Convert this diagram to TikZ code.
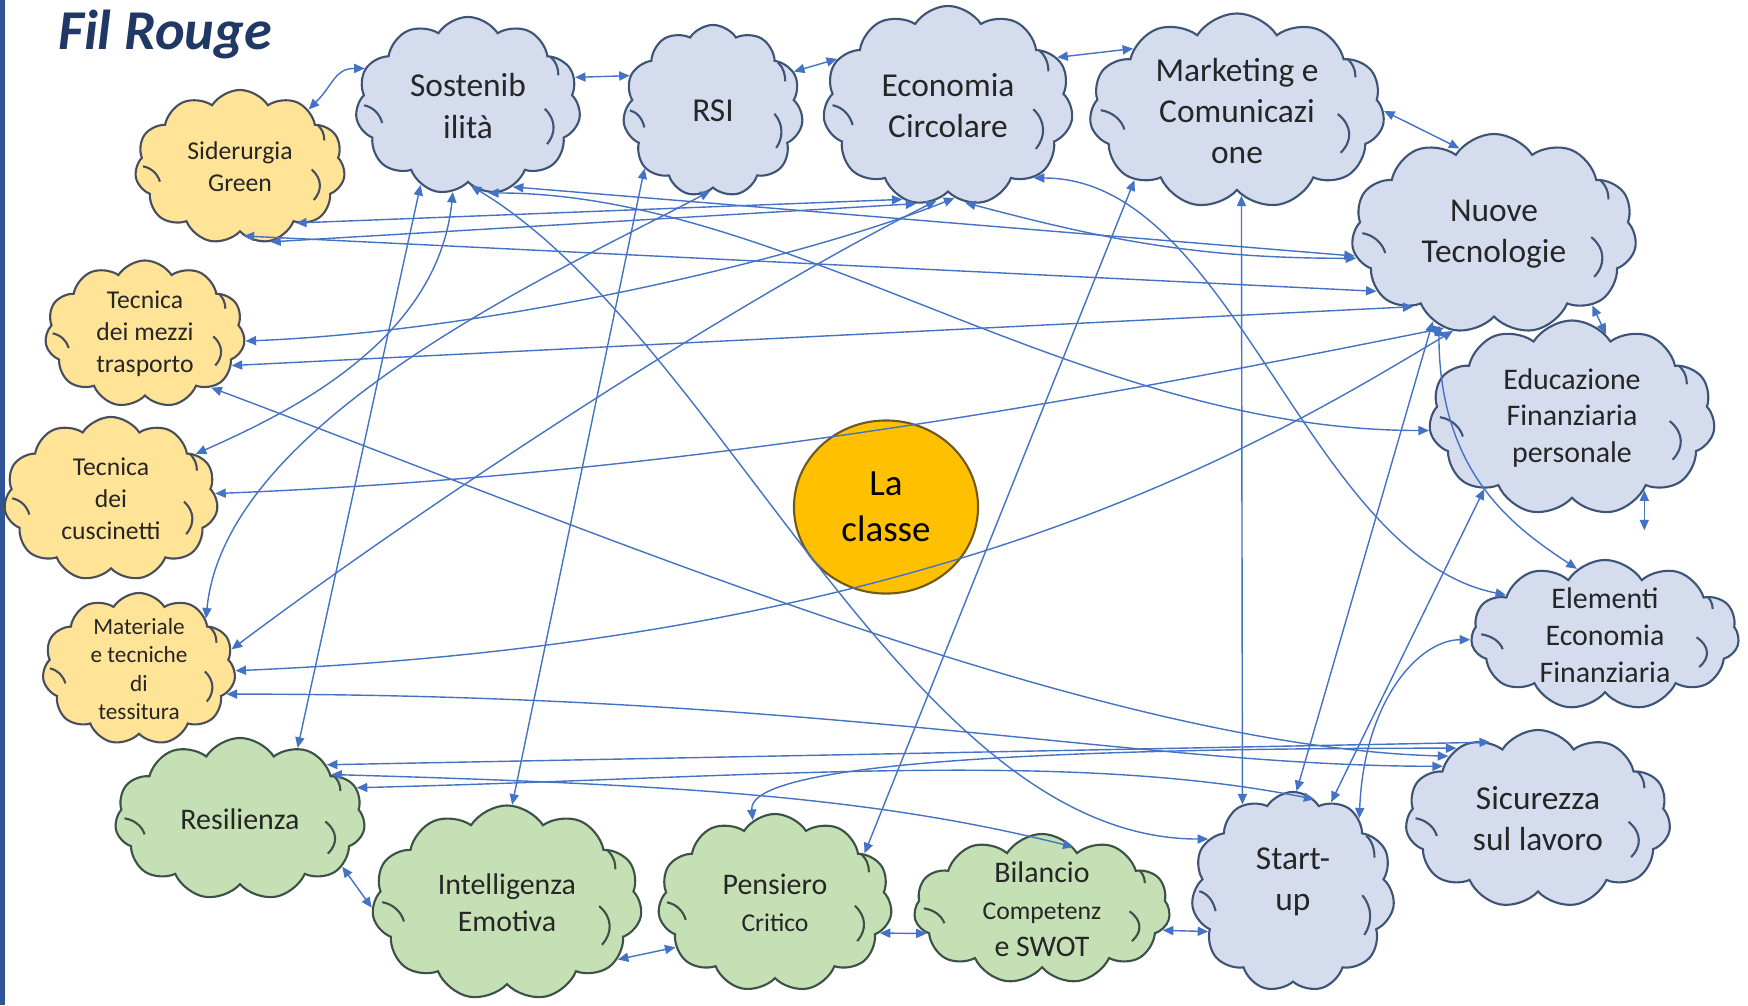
\documentclass[tikz,border=0pt]{standalone}
\usepackage{fontspec}
\setmainfont{Carlito}
\usetikzlibrary{shapes.symbols,shapes.geometric,arrows.meta,calc}
\definecolor{topicfill}{RGB}{212,220,238}
\definecolor{topicdraw}{RGB}{62,84,118}
\definecolor{techfill}{RGB}{255,227,150}
\definecolor{techdraw}{RGB}{72,78,92}
\definecolor{softfill}{RGB}{197,224,180}
\definecolor{softdraw}{RGB}{60,82,70}
\definecolor{classfill}{RGB}{255,192,0}
\definecolor{classdraw}{RGB}{110,90,30}
\definecolor{linkblue}{RGB}{68,114,196}
\definecolor{titleblue}{RGB}{31,56,100}
\definecolor{barblue}{RGB}{47,85,151}
\newcommand{\cloudbig}{\fontsize{9.5}{11.7}\selectfont}
\newcommand{\cloudmid}{\fontsize{8.5}{10.5}\selectfont}
\newcommand{\cloudsmall}{\fontsize{7.3}{9.1}\selectfont}
\newcommand{\cloudtiny}{\fontsize{6.6}{8}\selectfont}
% point inside the cloud box, u from left, v from top
\newcommand{\inbox}[2]{({\x1+#1*(\x2-\x1)},{\y1+#2*(\y2-\y1)})}
\tikzset{
    cloud text/.style = {
        align = center,
        text = black!85,
        inner sep = 0pt,
        },
    cloud marks/.style = {
        path picture = {
            \draw[#1, line width=0.6pt]
                let \p1 = (path picture bounding box.north west),
                    \p2 = (path picture bounding box.south east) in
                \inbox{0.04}{0.50} .. controls \inbox{0.08}{0.51} and \inbox{0.11}{0.55} .. \inbox{0.12}{0.60}
                \inbox{0.84}{0.52} .. controls \inbox{0.89}{0.58} and \inbox{0.89}{0.66} .. \inbox{0.85}{0.72}
                \inbox{0.86}{0.22} .. controls \inbox{0.89}{0.25} and \inbox{0.90}{0.29} .. \inbox{0.90}{0.33};
            },
        },
    base cloud/.style = {
        cloud,
        cloud puffs = 11,
        cloud puff arc = 115,
        cloud ignores aspect,
        draw,
        line width = 0.6pt,
        inner sep = 0pt,
        },
    topic cloud/.style = {
        base cloud,
        fill = topicfill,
        draw = topicdraw,
        cloud marks = topicdraw,
        },
    tech cloud/.style = {
        base cloud,
        fill = techfill,
        draw = techdraw,
        cloud marks = techdraw,
        },
    soft cloud/.style = {
        base cloud,
        fill = softfill,
        draw = softdraw,
        cloud marks = softdraw,
        },
    link/.style = {
        draw = linkblue,
        line width = 0.4pt,
        {Triangle[length=3pt,width=2.6pt]}-{Triangle[length=3pt,width=2.6pt]},
        },
}

\begin{document}
\begin{tikzpicture}[x=0.01cm, y=-0.01cm]
            \useasboundingbox (0,0) rectangle (1748,1005);
            \fill[barblue] (0,0) rectangle (5,1005);
            \node[font=\fontsize{16}{19}\selectfont\bfseries\itshape, text=titleblue, inner sep=0pt] (title) at (165,34) {Fil Rouge};

            % top row
            \node[topic cloud, minimum width=2.25cm, minimum height=1.78cm, label={[cloud text, font=\cloudbig]center:Sostenib\\ilità}] (sost) at (468,106) {};
            \node[topic cloud, minimum width=1.8cm, minimum height=1.72cm, label={[cloud text, font=\cloudbig]center:RSI}] (rsi) at (713,111) {};
            \node[topic cloud, minimum width=2.5cm, minimum height=2.0cm, label={[cloud text, font=\cloudbig]center:Economia\\Circolare}] (econ) at (948,106) {};
            \node[topic cloud, minimum width=2.95cm, minimum height=1.95cm, label={[cloud text, font=\cloudbig]center:Marketing e\\Comunicazi\\one}] (mark) at (1237,111) {};

            % right column
            \node[topic cloud, minimum width=2.85cm, minimum height=2.0cm, label={[cloud text, font=\cloudbig]center:Nuove\\Tecnologie}] (nuove) at (1494,234) {};
            \node[topic cloud, minimum width=2.86cm, minimum height=1.95cm, label={[cloud text, font=\cloudmid]center:Educazione\\Finanziaria\\personale}] (educ) at (1572,418) {};
            \node[topic cloud, minimum width=2.68cm, minimum height=1.5cm, label={[cloud text, font=\cloudmid]center:Elementi\\Economia\\Finanziaria}] (elem) at (1605,635) {};
            \node[topic cloud, minimum width=2.65cm, minimum height=1.78cm, label={[cloud text, font=\cloudbig]center:Sicurezza\\sul lavoro}] (sicur) at (1538,819) {};
            \node[topic cloud, minimum width=2.03cm, minimum height=2.0cm, label={[cloud text, font=\cloudbig, yshift=1mm]center:Start-\\up}] (start) at (1293,892) {};

            % bottom row
            \node[soft cloud, minimum width=2.56cm, minimum height=1.5cm, label={[cloud text, font=\cloudmid]center:Bilancio\\{\cloudsmall Competenz}\\e SWOT}] (bilan) at (1042,909) {};
            \node[soft cloud, minimum width=2.34cm, minimum height=1.78cm, label={[cloud text, font=\cloudmid]center:Pensiero\\{\cloudsmall Critico}}] (pens) at (775,903) {};
            \node[soft cloud, minimum width=2.7cm, minimum height=1.95cm, label={[cloud text, font=\cloudmid]center:Intelligenza\\Emotiva}] (intel) at (507,903) {};
            \node[soft cloud, minimum width=2.5cm, minimum height=1.62cm, label={[cloud text, font=\cloudmid]center:Resilienza}] (resil) at (240,819) {};

            % left column
            \node[tech cloud, minimum width=2.1cm, minimum height=1.54cm, label={[cloud text, font=\cloudsmall]center:Siderurgia\\Green}] (sider) at (240,167) {};
            \node[tech cloud, minimum width=2.0cm, minimum height=1.47cm, label={[cloud text, font=\cloudsmall]center:Tecnica\\dei mezzi\\trasporto}] (mezzi) at (145,334) {};
            \node[tech cloud, minimum width=2.14cm, minimum height=1.64cm, label={[cloud text, font=\cloudsmall]center:Tecnica\\dei\\cuscinetti}] (cusc) at (111,499) {};
            \node[tech cloud, minimum width=1.93cm, minimum height=1.52cm, label={[cloud text, font=\cloudtiny]center:Materiale\\e tecniche\\di\\tessitura}] (tess) at (139,669) {};

            \node[ellipse, draw=classdraw, fill=classfill, line width=0.6pt, minimum width=1.84cm, minimum height=1.73cm, inner sep=0pt, align=center, font=\fontsize{10.5}{13}\selectfont] (classe) at (886,507) {La\\classe};

            % neighbours
            \draw[link] (sider.40) .. controls +(25,-25) and +(-30,0) .. (sost.160);
            \path (sost.15) edge[link] (rsi.157);
            \path (rsi.26) edge[link] (econ.157);
            \path (econ.24) edge[link] (mark.149);
            \path (mark.0) edge[link] (nuove.112);
            \path (nuove.-36) edge[link] (educ.68);
            \path (educ.-45) ++(0,40) coordinate (educ tail);
            \path (educ.-45) edge[link] (educ tail);
            \path (bilan.-10) edge[link] (start.205);
            \path (pens.-16) edge[link] (bilan.192);
            \path (intel.-27) edge[link] (pens.204);
            \path (resil.-25) edge[link] (intel.182);

            % long links
            \path (sost.-121) edge[link] (resil.51);
            \draw[link] (sost.-100) .. controls +(-15,150) and +(90,-40) .. (cusc.28);
            \draw[link] (sost.-88) .. controls +(250,150) and +(-300,0) .. (start.148);
            \draw[link] (sost.-77) .. controls +(300,0) and +(-350,0) .. (educ.185);
            \path (sost.-61) edge[link] (nuove.189);
            \path (sider.-45) edge[link] (econ.-116);
            \path (sider.-68) edge[link] (econ.-108);
            \path (sider.-87) edge[link] (nuove.206);
            \draw[link] (mezzi.-4) .. controls +(250,-10) and +(-150,60) .. (econ.-86);
            \path (mezzi.-20) edge[link] (nuove.222);
            \draw[link] (mezzi.-39) .. controls +(400,150) and +(-350,-10) .. (sicur.145);
            \draw[link] (cusc.3) .. controls +(500,-20) and +(-300,60) .. (nuove.242);
            \draw[link] (tess.37) .. controls +(20,-200) and +(-150,80) .. (rsi.-92);
            \draw[link] (tess.12) .. controls +(200,-150) and +(-200,100) .. (econ.-97);
            \draw[link] (tess.-1) .. controls +(700,-30) and +(-200,120) .. (nuove.247);
            \draw[link] (tess.-16) .. controls +(600,0) and +(-300,0) .. (sicur.151);
            \path (resil.32) edge[link] (sicur.122);
            \draw[link] (resil.26) .. controls +(350,10) and +(-200,-50) .. (bilan.63);
            \draw[link] (resil.15) .. controls +(400,-10) and +(-250,-50) .. (start.77);
            \path (intel.87) edge[link] (rsi.220);
            \draw[link] (pens.105) .. controls +(-5,-50) and +(-500,0) .. (sicur.139);
            \path (mark.214) edge[link] (pens.29);
            \path (mark.-87) edge[link] (start.120);
            \draw[link] (econ.-80) .. controls +(150,40) and +(-150,0) .. (nuove.190);
            \draw[link] (econ.-40) .. controls +(200,0) and +(-200,-40) .. (elem.158);
            \path (nuove.-125) edge[link] (start.88);
            \draw[link] (nuove.-121) .. controls +(0,150) and +(-60,-40) .. (elem.113);
            \path (educ.-141) edge[link] (start.67);
            \draw[link] (start.48) .. controls +(5,-120) and +(-50,0) .. (elem.182);
\end{tikzpicture}
\end{document}
